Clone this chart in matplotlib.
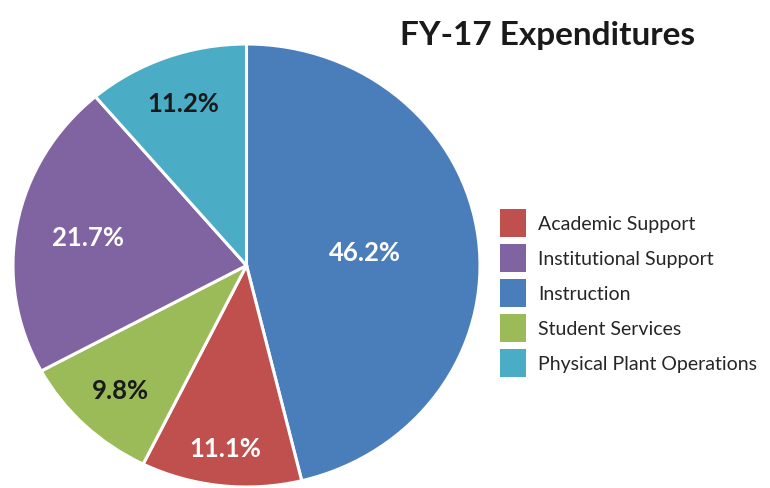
import matplotlib.pyplot as plt
import numpy as np

plt.rcParams['font.family'] = ['Lato', 'DejaVu Sans']

# slices in drawing order (clockwise from top)
categories = ['Instruction', 'Academic Support', 'Student Services',
              'Institutional Support', 'Physical Plant Operations']
shares = [46.2, 11.1, 9.8, 21.7, 11.2]
colors = ['#4a7ebb', '#c0504d', '#9bbb59', '#8064a2', '#4bacc6']
label_colors = ['white', 'white', '#1a1a1a', 'white', '#1a1a1a']
label_dist = [0.51, 0.83, 0.78, 0.69, 0.78]

# legend order
legend_order = ['Academic Support', 'Institutional Support', 'Instruction',
                'Student Services', 'Physical Plant Operations']

fig = plt.figure(figsize=(7.70, 4.89), dpi=100)
ax = fig.add_axes([13 / 770, 1 / 489, 467 / 770, 443 / 489])

wedges, _ = ax.pie(shares, colors=colors, startangle=90, counterclock=False,
                   wedgeprops=dict(edgecolor='white', linewidth=2.2))
ax.set_aspect('auto')
ax.set_xlim(-1.0, 1.0)
ax.set_ylim(-1.0, 1.0)

for w, val, c, d in zip(wedges, shares, label_colors, label_dist):
    mid = np.deg2rad((w.theta1 + w.theta2) / 2)
    ax.text(d * np.cos(mid), d * np.sin(mid), f'{val:.1f}%', color=c,
            fontsize=18.5, fontweight='bold', ha='center', va='center')

handles = [wedges[categories.index(n)] for n in legend_order]
leg = fig.legend(handles, legend_order, loc='upper left',
                 bbox_to_anchor=(500 / 770, 1 - 210 / 489), frameon=False,
                 fontsize=14, handlelength=1.34, handleheight=1.84,
                 labelspacing=0.36, handletextpad=0.62, borderpad=0,
                 borderaxespad=0)
for t in leg.get_texts():
    t.set_color('#262626')
for h in leg.legend_handles:
    h.set_edgecolor('none')

fig.text(548 / 770, 1 - 35 / 489, 'FY-17 Expenditures', fontsize=24,
         fontweight='bold', color='#1a1a1a', ha='center', va='center')

fig.savefig('out.png', dpi=100)
